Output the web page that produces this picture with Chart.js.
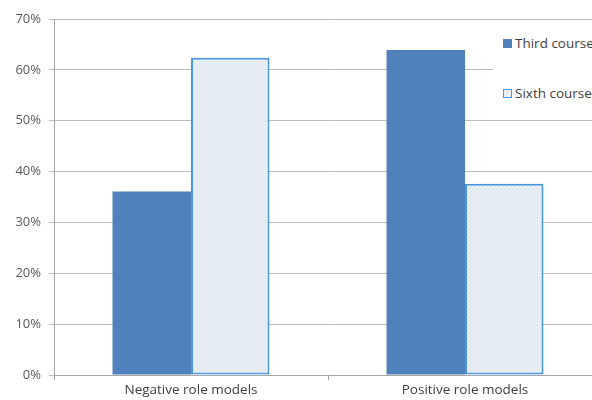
<!DOCTYPE html>
<html>
<head>
<meta charset="utf-8">
<script src="https://cdn.jsdelivr.net/npm/chart.js@4/dist/chart.umd.min.js"></script>
<style>
  html,body{margin:0;padding:0;background:#fff;overflow:hidden;}
  #wrap{position:relative;width:592px;height:400px;overflow:hidden;}
  #inner{position:absolute;left:0;top:0;width:604px;height:400px;}
  #legend{position:absolute;left:493px;top:27px;width:110px;height:82px;background:#fff;
    font-family:"Open Sans",sans-serif;font-size:13.5px;color:#404040;}
  .item{position:absolute;left:10px;white-space:nowrap;}
  .sw{display:inline-block;width:9px;height:9px;vertical-align:0px;margin-right:3px;box-sizing:border-box;}
</style>
</head>
<body>
<div id="wrap">
  <div id="inner"><canvas id="c" width="604" height="400"></canvas></div>
  <div id="legend"></div>
</div>
<script>
const categories = ["Negative role models", "Positive role models"];
const seriesNames = ["Third course", "Sixth course"];
const thirdCourse = [36.1, 63.9];
const sixthCourse = [62.4, 37.6];
const yTicks = [0, 10, 20, 30, 40, 50, 60, 70];

const solidBlue = "#4F81BD";
const outlineBlue = "#4A96E0";

// dotted pattern fill
const pc = document.createElement("canvas");
pc.width = 4; pc.height = 4;
const px = pc.getContext("2d");
px.fillStyle = "#e9eff7"; px.fillRect(0,0,4,4);
px.fillStyle = "#c4ccd8"; px.fillRect(1,1,1,1);
px.fillStyle = "#d6dde7"; px.fillRect(3,3,1,1);
const ctx = document.getElementById("c").getContext("2d");
const pattern = ctx.createPattern(pc, "repeat");

// HTML legend
const lg = document.getElementById("legend");
lg.innerHTML =
  '<div class="item" style="top:7px"><span class="sw" style="background:'+solidBlue+'"></span>'+seriesNames[0]+'</div>' +
  '<div class="item" style="top:57px"><span class="sw" style="background:#e9eff7;border:1.5px solid '+outlineBlue+'"></span>'+seriesNames[1]+'</div>';

new Chart(ctx, {
  type: "bar",
  data: {
    labels: categories,
    datasets: [
      { label: seriesNames[0], data: thirdCourse, backgroundColor: solidBlue, borderWidth: 0,
        categoryPercentage: 0.573, barPercentage: 1.0 },
      { label: seriesNames[1], data: sixthCourse, backgroundColor: pattern, borderColor: outlineBlue,
        borderWidth: 2, borderSkipped: false, categoryPercentage: 0.573, barPercentage: 1.0 }
    ]
  },
  options: {
    responsive: false,
    animation: false,
    layout: { padding: { top: 19, right: 2, left: 0, bottom: 0 } },
    plugins: { legend: { display: false }, tooltip: { enabled: false } },
    scales: {
      x: {
        grid: { drawOnChartArea: false, color: "#a6a6a6", tickLength: 5, offset: true },
        border: { color: "#a6a6a6" },
        ticks: { color: "#404040", font: { family: "Open Sans", size: 13.5 }, padding: 2 },
        afterFit: s => { s.height = 25; }
      },
      y: {
        min: 0, max: 70,
        afterBuildTicks: s => { s.ticks = yTicks.map(v => ({ value: v })); },
        grid: { color: "#bdbdbd", tickLength: 5 },
        border: { color: "#a6a6a6" },
        ticks: { color: "#595959", font: { family: "Open Sans", size: 13 }, padding: 8,
                 callback: v => v + "%" },
        afterFit: s => { s.width = 54; }
      }
    }
  }
});
</script>
</body>
</html>
